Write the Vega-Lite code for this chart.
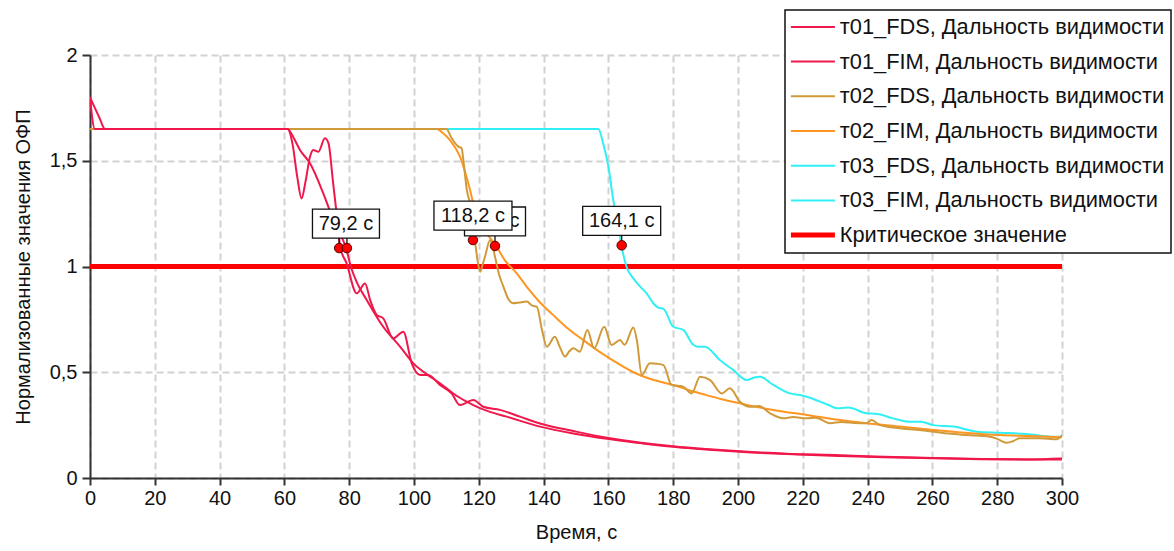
{
  "$schema": "https://vega.github.io/schema/vega-lite/v6.json",
  "width": 972,
  "height": 423,
  "autosize": {"type": "none"},
  "padding": {"left": 90, "top": 55, "right": 112, "bottom": 73},
  "background": "white",
  "config": {
    "font": "Liberation Sans",
    "view": {"stroke": null},
    "legend": {"strokeWidth": 1.5}
  },
  "datasets": {
    "curves": [
      {"series": "Критическое значение", "t": 0, "v": 1},
      {"series": "Критическое значение", "t": 300, "v": 1},
      {"series": "т03_FDS, Дальность видимости", "t": 0, "v": 1.65},
      {"series": "т03_FDS, Дальность видимости", "t": 156.9, "v": 1.65},
      {"series": "т03_FDS, Дальность видимости", "t": 158.4, "v": 1.582},
      {"series": "т03_FDS, Дальность видимости", "t": 160, "v": 1.472},
      {"series": "т03_FDS, Дальность видимости", "t": 161.5, "v": 1.314},
      {"series": "т03_FDS, Дальность видимости", "t": 163.1, "v": 1.188},
      {"series": "т03_FDS, Дальность видимости", "t": 164.1, "v": 1.094},
      {"series": "т03_FDS, Дальность видимости", "t": 165.6, "v": 0.999},
      {"series": "т03_FDS, Дальность видимости", "t": 167.7, "v": 0.944},
      {"series": "т03_FDS, Дальность видимости", "t": 169.8, "v": 0.905},
      {"series": "т03_FDS, Дальность видимости", "t": 171.8, "v": 0.873},
      {"series": "т03_FDS, Дальность видимости", "t": 173.9, "v": 0.825},
      {"series": "т03_FDS, Дальность видимости", "t": 175.5, "v": 0.805},
      {"series": "т03_FDS, Дальность видимости", "t": 177, "v": 0.8},
      {"series": "т03_FDS, Дальность видимости", "t": 180, "v": 0.715},
      {"series": "т03_FDS, Дальность видимости", "t": 183.1, "v": 0.7},
      {"series": "т03_FDS, Дальность видимости", "t": 186.2, "v": 0.63},
      {"series": "т03_FDS, Дальность видимости", "t": 187.5, "v": 0.621},
      {"series": "т03_FDS, Дальность видимости", "t": 189.8, "v": 0.621},
      {"series": "т03_FDS, Дальность видимости", "t": 194.4, "v": 0.558},
      {"series": "т03_FDS, Дальность видимости", "t": 198.5, "v": 0.511},
      {"series": "т03_FDS, Дальность видимости", "t": 202.7, "v": 0.463},
      {"series": "т03_FDS, Дальность видимости", "t": 205, "v": 0.475},
      {"series": "т03_FDS, Дальность видимости", "t": 206.8, "v": 0.479},
      {"series": "т03_FDS, Дальность видимости", "t": 210.9, "v": 0.44},
      {"series": "т03_FDS, Дальность видимости", "t": 216, "v": 0.4},
      {"series": "т03_FDS, Дальность видимости", "t": 219.1, "v": 0.392},
      {"series": "т03_FDS, Дальность видимости", "t": 221.2, "v": 0.384},
      {"series": "т03_FDS, Дальность видимости", "t": 225.3, "v": 0.361},
      {"series": "т03_FDS, Дальность видимости", "t": 228, "v": 0.345},
      {"series": "т03_FDS, Дальность видимости", "t": 230.5, "v": 0.33},
      {"series": "т03_FDS, Дальность видимости", "t": 234, "v": 0.333},
      {"series": "т03_FDS, Дальность видимости", "t": 239.7, "v": 0.306},
      {"series": "т03_FDS, Дальность видимости", "t": 243, "v": 0.303},
      {"series": "т03_FDS, Дальность видимости", "t": 247.9, "v": 0.282},
      {"series": "т03_FDS, Дальность видимости", "t": 253.1, "v": 0.266},
      {"series": "т03_FDS, Дальность видимости", "t": 256.5, "v": 0.266},
      {"series": "т03_FDS, Дальность видимости", "t": 260.3, "v": 0.25},
      {"series": "т03_FDS, Дальность видимости", "t": 266.5, "v": 0.243},
      {"series": "т03_FDS, Дальность видимости", "t": 273.7, "v": 0.219},
      {"series": "т03_FDS, Дальность видимости", "t": 280.9, "v": 0.214},
      {"series": "т03_FDS, Дальность видимости", "t": 289.1, "v": 0.208},
      {"series": "т03_FDS, Дальность видимости", "t": 297.3, "v": 0.195},
      {"series": "т03_FDS, Дальность видимости", "t": 300, "v": 0.195},
      {"series": "т02_FIM, Дальность видимости", "t": 0, "v": 1.65},
      {"series": "т02_FIM, Дальность видимости", "t": 107, "v": 1.65},
      {"series": "т02_FIM, Дальность видимости", "t": 109, "v": 1.63},
      {"series": "т02_FIM, Дальность видимости", "t": 111.1, "v": 1.598},
      {"series": "т02_FIM, Дальность видимости", "t": 114.2, "v": 1.519},
      {"series": "т02_FIM, Дальность видимости", "t": 117.3, "v": 1.362},
      {"series": "т02_FIM, Дальность видимости", "t": 119.3, "v": 1.235},
      {"series": "т02_FIM, Дальность видимости", "t": 122.4, "v": 1.157},
      {"series": "т02_FIM, Дальность видимости", "t": 125.5, "v": 1.094},
      {"series": "т02_FIM, Дальность видимости", "t": 128, "v": 1.03},
      {"series": "т02_FIM, Дальность видимости", "t": 131.7, "v": 0.968},
      {"series": "т02_FIM, Дальность видимости", "t": 135, "v": 0.9},
      {"series": "т02_FIM, Дальность видимости", "t": 138.9, "v": 0.83},
      {"series": "т02_FIM, Дальность видимости", "t": 143, "v": 0.77},
      {"series": "т02_FIM, Дальность видимости", "t": 147.1, "v": 0.712},
      {"series": "т02_FIM, Дальность видимости", "t": 152, "v": 0.655},
      {"series": "т02_FIM, Дальность видимости", "t": 157.4, "v": 0.595},
      {"series": "т02_FIM, Дальность видимости", "t": 162, "v": 0.55},
      {"series": "т02_FIM, Дальность видимости", "t": 167.7, "v": 0.5},
      {"series": "т02_FIM, Дальность видимости", "t": 173, "v": 0.468},
      {"series": "т02_FIM, Дальность видимости", "t": 180, "v": 0.44},
      {"series": "т02_FIM, Дальность видимости", "t": 186, "v": 0.41},
      {"series": "т02_FIM, Дальность видимости", "t": 190.3, "v": 0.392},
      {"series": "т02_FIM, Дальность видимости", "t": 195, "v": 0.372},
      {"series": "т02_FIM, Дальность видимости", "t": 200.6, "v": 0.353},
      {"series": "т02_FIM, Дальность видимости", "t": 205, "v": 0.338},
      {"series": "т02_FIM, Дальность видимости", "t": 210.9, "v": 0.322},
      {"series": "т02_FIM, Дальность видимости", "t": 221.2, "v": 0.298},
      {"series": "т02_FIM, Дальность видимости", "t": 231.5, "v": 0.274},
      {"series": "т02_FIM, Дальность видимости", "t": 239.7, "v": 0.259},
      {"series": "т02_FIM, Дальность видимости", "t": 250, "v": 0.243},
      {"series": "т02_FIM, Дальность видимости", "t": 260.3, "v": 0.227},
      {"series": "т02_FIM, Дальность видимости", "t": 270, "v": 0.214},
      {"series": "т02_FIM, Дальность видимости", "t": 280.9, "v": 0.203},
      {"series": "т02_FIM, Дальность видимости", "t": 290, "v": 0.198},
      {"series": "т02_FIM, Дальность видимости", "t": 300, "v": 0.193},
      {"series": "т02_FDS, Дальность видимости", "t": 0, "v": 1.65},
      {"series": "т02_FDS, Дальность видимости", "t": 110, "v": 1.65},
      {"series": "т02_FDS, Дальность видимости", "t": 111.5, "v": 1.61},
      {"series": "т02_FDS, Дальность видимости", "t": 112.7, "v": 1.582},
      {"series": "т02_FDS, Дальность видимости", "t": 113.7, "v": 1.567},
      {"series": "т02_FDS, Дальность видимости", "t": 114.7, "v": 1.559},
      {"series": "т02_FDS, Дальность видимости", "t": 115.4, "v": 1.48},
      {"series": "т02_FDS, Дальность видимости", "t": 116.3, "v": 1.362},
      {"series": "т02_FDS, Дальность видимости", "t": 117.8, "v": 1.267},
      {"series": "т02_FDS, Дальность видимости", "t": 118.8, "v": 1.125},
      {"series": "т02_FDS, Дальность видимости", "t": 119.6, "v": 1.03},
      {"series": "т02_FDS, Дальность видимости", "t": 120.4, "v": 0.975},
      {"series": "т02_FDS, Дальность видимости", "t": 121.2, "v": 1.01},
      {"series": "т02_FDS, Дальность видимости", "t": 121.9, "v": 1.046},
      {"series": "т02_FDS, Дальность видимости", "t": 123.5, "v": 1.125},
      {"series": "т02_FDS, Дальность видимости", "t": 124.2, "v": 1.1},
      {"series": "т02_FDS, Дальность видимости", "t": 125, "v": 1.046},
      {"series": "т02_FDS, Дальность видимости", "t": 126.3, "v": 0.96},
      {"series": "т02_FDS, Дальность видимости", "t": 127.6, "v": 0.905},
      {"series": "т02_FDS, Дальность видимости", "t": 129, "v": 0.85},
      {"series": "т02_FDS, Дальность видимости", "t": 130.7, "v": 0.826},
      {"series": "т02_FDS, Дальность видимости", "t": 132.5, "v": 0.83},
      {"series": "т02_FDS, Дальность видимости", "t": 134.8, "v": 0.834},
      {"series": "т02_FDS, Дальность видимости", "t": 136.5, "v": 0.815},
      {"series": "т02_FDS, Дальность видимости", "t": 137.9, "v": 0.81},
      {"series": "т02_FDS, Дальность видимости", "t": 139.5, "v": 0.7},
      {"series": "т02_FDS, Дальность видимости", "t": 141, "v": 0.621},
      {"series": "т02_FDS, Дальность видимости", "t": 143.5, "v": 0.668},
      {"series": "т02_FDS, Дальность видимости", "t": 145, "v": 0.62},
      {"series": "т02_FDS, Дальность видимости", "t": 146.6, "v": 0.574},
      {"series": "т02_FDS, Дальность видимости", "t": 148, "v": 0.6},
      {"series": "т02_FDS, Дальность видимости", "t": 149.2, "v": 0.613},
      {"series": "т02_FDS, Дальность видимости", "t": 151.2, "v": 0.597},
      {"series": "т02_FDS, Дальность видимости", "t": 153.5, "v": 0.7},
      {"series": "т02_FDS, Дальность видимости", "t": 155.6, "v": 0.613},
      {"series": "т02_FDS, Дальность видимости", "t": 158.7, "v": 0.715},
      {"series": "т02_FDS, Дальность видимости", "t": 161, "v": 0.629},
      {"series": "т02_FDS, Дальность видимости", "t": 163.6, "v": 0.652},
      {"series": "т02_FDS, Дальность видимости", "t": 165, "v": 0.63},
      {"series": "т02_FDS, Дальность видимости", "t": 167.7, "v": 0.712},
      {"series": "т02_FDS, Дальность видимости", "t": 168.8, "v": 0.65},
      {"series": "т02_FDS, Дальность видимости", "t": 170.3, "v": 0.487},
      {"series": "т02_FDS, Дальность видимости", "t": 172.8, "v": 0.542},
      {"series": "т02_FDS, Дальность видимости", "t": 175, "v": 0.54},
      {"series": "т02_FDS, Дальность видимости", "t": 177, "v": 0.534},
      {"series": "т02_FDS, Дальность видимости", "t": 179.5, "v": 0.44},
      {"series": "т02_FDS, Дальность видимости", "t": 183.1, "v": 0.432},
      {"series": "т02_FDS, Дальность видимости", "t": 185.7, "v": 0.4},
      {"series": "т02_FDS, Дальность видимости", "t": 188.3, "v": 0.479},
      {"series": "т02_FDS, Дальность видимости", "t": 191.4, "v": 0.463},
      {"series": "т02_FDS, Дальность видимости", "t": 195, "v": 0.4},
      {"series": "т02_FDS, Дальность видимости", "t": 197.5, "v": 0.424},
      {"series": "т02_FDS, Дальность видимости", "t": 200.6, "v": 0.361},
      {"series": "т02_FDS, Дальность видимости", "t": 203.7, "v": 0.337},
      {"series": "т02_FDS, Дальность видимости", "t": 206.5, "v": 0.34},
      {"series": "т02_FDS, Дальность видимости", "t": 209.9, "v": 0.306},
      {"series": "т02_FDS, Дальность видимости", "t": 214, "v": 0.282},
      {"series": "т02_FDS, Дальность видимости", "t": 217, "v": 0.288},
      {"series": "т02_FDS, Дальность видимости", "t": 221.2, "v": 0.282},
      {"series": "т02_FDS, Дальность видимости", "t": 224, "v": 0.285},
      {"series": "т02_FDS, Дальность видимости", "t": 228.4, "v": 0.259},
      {"series": "т02_FDS, Дальность видимости", "t": 232, "v": 0.265},
      {"series": "т02_FDS, Дальность видимости", "t": 236, "v": 0.26},
      {"series": "т02_FDS, Дальность видимости", "t": 239.7, "v": 0.259},
      {"series": "т02_FDS, Дальность видимости", "t": 241.2, "v": 0.274},
      {"series": "т02_FDS, Дальность видимости", "t": 243.8, "v": 0.25},
      {"series": "т02_FDS, Дальность видимости", "t": 250, "v": 0.235},
      {"series": "т02_FDS, Дальность видимости", "t": 255, "v": 0.228},
      {"series": "т02_FDS, Дальность видимости", "t": 260.3, "v": 0.219},
      {"series": "т02_FDS, Дальность видимости", "t": 265, "v": 0.21},
      {"series": "т02_FDS, Дальность видимости", "t": 270.6, "v": 0.203},
      {"series": "т02_FDS, Дальность видимости", "t": 277.8, "v": 0.195},
      {"series": "т02_FDS, Дальность видимости", "t": 280, "v": 0.185},
      {"series": "т02_FDS, Дальность видимости", "t": 282.9, "v": 0.167},
      {"series": "т02_FDS, Дальность видимости", "t": 285, "v": 0.175},
      {"series": "т02_FDS, Дальность видимости", "t": 287, "v": 0.188},
      {"series": "т02_FDS, Дальность видимости", "t": 293.2, "v": 0.188},
      {"series": "т02_FDS, Дальность видимости", "t": 298.4, "v": 0.183},
      {"series": "т02_FDS, Дальность видимости", "t": 300, "v": 0.203},
      {"series": "т01_FIM, Дальность видимости", "t": 0, "v": 1.8},
      {"series": "т01_FIM, Дальность видимости", "t": 1.5, "v": 1.75},
      {"series": "т01_FIM, Дальность видимости", "t": 3, "v": 1.7},
      {"series": "т01_FIM, Дальность видимости", "t": 4.6, "v": 1.65},
      {"series": "т01_FIM, Дальность видимости", "t": 61, "v": 1.65},
      {"series": "т01_FIM, Дальность видимости", "t": 62.8, "v": 1.61},
      {"series": "т01_FIM, Дальность видимости", "t": 64.8, "v": 1.551},
      {"series": "т01_FIM, Дальность видимости", "t": 67.9, "v": 1.488},
      {"series": "т01_FIM, Дальность видимости", "t": 72, "v": 1.346},
      {"series": "т01_FIM, Дальность видимости", "t": 75.1, "v": 1.22},
      {"series": "т01_FIM, Дальность видимости", "t": 79.2, "v": 1.078},
      {"series": "т01_FIM, Дальность видимости", "t": 80.5, "v": 1.0},
      {"series": "т01_FIM, Дальность видимости", "t": 82.5, "v": 0.92},
      {"series": "т01_FIM, Дальность видимости", "t": 85.4, "v": 0.842},
      {"series": "т01_FIM, Дальность видимости", "t": 90.5, "v": 0.715},
      {"series": "т01_FIM, Дальность видимости", "t": 95.7, "v": 0.621},
      {"series": "т01_FIM, Дальность видимости", "t": 99.8, "v": 0.542},
      {"series": "т01_FIM, Дальность видимости", "t": 104, "v": 0.49},
      {"series": "т01_FIM, Дальность видимости", "t": 108, "v": 0.448},
      {"series": "т01_FIM, Дальность видимости", "t": 113, "v": 0.39},
      {"series": "т01_FIM, Дальность видимости", "t": 118.3, "v": 0.345},
      {"series": "т01_FIM, Дальность видимости", "t": 123, "v": 0.315},
      {"series": "т01_FIM, Дальность видимости", "t": 128.6, "v": 0.29},
      {"series": "т01_FIM, Дальность видимости", "t": 138.9, "v": 0.243},
      {"series": "т01_FIM, Дальность видимости", "t": 149.2, "v": 0.21},
      {"series": "т01_FIM, Дальность видимости", "t": 159.5, "v": 0.185},
      {"series": "т01_FIM, Дальность видимости", "t": 170, "v": 0.165},
      {"series": "т01_FIM, Дальность видимости", "t": 180, "v": 0.148},
      {"series": "т01_FIM, Дальность видимости", "t": 190, "v": 0.135},
      {"series": "т01_FIM, Дальность видимости", "t": 200.6, "v": 0.124},
      {"series": "т01_FIM, Дальность видимости", "t": 215, "v": 0.113},
      {"series": "т01_FIM, Дальность видимости", "t": 231.5, "v": 0.104},
      {"series": "т01_FIM, Дальность видимости", "t": 245, "v": 0.098},
      {"series": "т01_FIM, Дальность видимости", "t": 260, "v": 0.093},
      {"series": "т01_FIM, Дальность видимости", "t": 275, "v": 0.089},
      {"series": "т01_FIM, Дальность видимости", "t": 290, "v": 0.087},
      {"series": "т01_FIM, Дальность видимости", "t": 300, "v": 0.088},
      {"series": "т01_FDS, Дальность видимости", "t": 0, "v": 1.8},
      {"series": "т01_FDS, Дальность видимости", "t": 1.5, "v": 1.65},
      {"series": "т01_FDS, Дальность видимости", "t": 61, "v": 1.65},
      {"series": "т01_FDS, Дальность видимости", "t": 62.5, "v": 1.58},
      {"series": "т01_FDS, Дальность видимости", "t": 64, "v": 1.42},
      {"series": "т01_FDS, Дальность видимости", "t": 65.3, "v": 1.322},
      {"series": "т01_FDS, Дальность видимости", "t": 66.5, "v": 1.4},
      {"series": "т01_FDS, Дальность видимости", "t": 67.9, "v": 1.519},
      {"series": "т01_FDS, Дальность видимости", "t": 68.9, "v": 1.551},
      {"series": "т01_FDS, Дальность видимости", "t": 70.5, "v": 1.543},
      {"series": "т01_FDS, Дальность видимости", "t": 72.5, "v": 1.606},
      {"series": "т01_FDS, Дальность видимости", "t": 73.6, "v": 1.583},
      {"series": "т01_FDS, Дальность видимости", "t": 75, "v": 1.4},
      {"series": "т01_FDS, Дальность видимости", "t": 76.1, "v": 1.252},
      {"series": "т01_FDS, Дальность видимости", "t": 77.2, "v": 1.094},
      {"series": "т01_FDS, Дальность видимости", "t": 79.2, "v": 1.015},
      {"series": "т01_FDS, Дальность видимости", "t": 82.3, "v": 0.873},
      {"series": "т01_FDS, Дальность видимости", "t": 84.9, "v": 0.92},
      {"series": "т01_FDS, Дальность видимости", "t": 86.5, "v": 0.84},
      {"series": "т01_FDS, Дальность видимости", "t": 88.5, "v": 0.771},
      {"series": "т01_FDS, Дальность видимости", "t": 90.5, "v": 0.755},
      {"series": "т01_FDS, Дальность видимости", "t": 93.6, "v": 0.66},
      {"series": "т01_FDS, Дальность видимости", "t": 96.7, "v": 0.692},
      {"series": "т01_FDS, Дальность видимости", "t": 99.3, "v": 0.542},
      {"series": "т01_FDS, Дальность видимости", "t": 101.9, "v": 0.487},
      {"series": "т01_FDS, Дальность видимости", "t": 104.4, "v": 0.487},
      {"series": "т01_FDS, Дальность видимости", "t": 108, "v": 0.44},
      {"series": "т01_FDS, Дальность видимости", "t": 111.6, "v": 0.4},
      {"series": "т01_FDS, Дальность видимости", "t": 114.2, "v": 0.345},
      {"series": "т01_FDS, Дальность видимости", "t": 118.3, "v": 0.369},
      {"series": "т01_FDS, Дальность видимости", "t": 121.4, "v": 0.337},
      {"series": "т01_FDS, Дальность видимости", "t": 126.5, "v": 0.322},
      {"series": "т01_FDS, Дальность видимости", "t": 132.7, "v": 0.29},
      {"series": "т01_FDS, Дальность видимости", "t": 138.9, "v": 0.258},
      {"series": "т01_FDS, Дальность видимости", "t": 149.2, "v": 0.222},
      {"series": "т01_FDS, Дальность видимости", "t": 159.5, "v": 0.19},
      {"series": "т01_FDS, Дальность видимости", "t": 170, "v": 0.167},
      {"series": "т01_FDS, Дальность видимости", "t": 180, "v": 0.15},
      {"series": "т01_FDS, Дальность видимости", "t": 190, "v": 0.137},
      {"series": "т01_FDS, Дальность видимости", "t": 200.6, "v": 0.126},
      {"series": "т01_FDS, Дальность видимости", "t": 215, "v": 0.115},
      {"series": "т01_FDS, Дальность видимости", "t": 231.5, "v": 0.108},
      {"series": "т01_FDS, Дальность видимости", "t": 245, "v": 0.1},
      {"series": "т01_FDS, Дальность видимости", "t": 260, "v": 0.095},
      {"series": "т01_FDS, Дальность видимости", "t": 275, "v": 0.09},
      {"series": "т01_FDS, Дальность видимости", "t": 290, "v": 0.088},
      {"series": "т01_FDS, Дальность видимости", "t": 300, "v": 0.092}
    ],
    "dots": [
      {"t": 76.9, "v": 1.087},
      {"t": 79.3, "v": 1.087},
      {"t": 118.2, "v": 1.125},
      {"t": 125.0, "v": 1.097},
      {"t": 164.1, "v": 1.1}
    ],
    "labels": [
      {"t": 125.0, "v": 1.097, "label": "125 с"},
      {"t": 79.0, "v": 1.087, "label": "79,2 с"},
      {"t": 118.2, "v": 1.125, "label": "118,2 с"},
      {"t": 164.1, "v": 1.1, "label": "164,1 с"}
    ]
  },
  "encoding": {
    "x": {
      "field": "t", "type": "quantitative",
      "scale": {"domain": [0, 300], "nice": false, "zero": false},
      "axis": {
        "title": "Время, с",
        "values": [0, 20, 40, 60, 80, 100, 120, 140, 160, 180, 200, 220, 240, 260, 280, 300],
        "grid": true, "gridDash": [7, 4], "gridColor": "#d2d2d2", "gridWidth": 2,
        "domainColor": "#333333", "domainWidth": 2,
        "tickColor": "#333333", "tickWidth": 2, "tickSize": 7,
        "labelFontSize": 20, "labelColor": "#111111", "labelPadding": 3, "labelFlush": false,
        "titleFontSize": 20, "titleFontWeight": "normal", "titleColor": "#111111", "titlePadding": 14
      }
    },
    "y": {
      "field": "v", "type": "quantitative",
      "scale": {"domain": [0, 2], "nice": false},
      "axis": {
        "title": "Нормализованные значения ОФП",
        "values": [0, 0.5, 1, 1.5, 2],
        "format": "~g",
        "labelExpr": "replace(datum.label, '.', ',')",
        "grid": true, "gridDash": [7, 4], "gridColor": "#d2d2d2", "gridWidth": 2,
        "domainColor": "#333333", "domainWidth": 2,
        "tickColor": "#333333", "tickWidth": 2, "tickSize": 8,
        "labelFontSize": 20, "labelColor": "#111111", "labelPadding": 5,
        "titleFontSize": 20, "titleFontWeight": "normal", "titleColor": "#111111", "titlePadding": 16
      }
    }
  },
  "layer": [
    {
      "data": {"name": "curves"},
      "transform": [{"filter": "datum.series == 'Критическое значение'"}],
      "mark": {"type": "line", "strokeWidth": 5, "strokeCap": "butt", "clip": true},
      "encoding": {
        "color": {
          "field": "series", "type": "nominal",
          "scale": {
            "domain": ["т01_FDS, Дальность видимости", "т01_FIM, Дальность видимости", "т02_FDS, Дальность видимости", "т02_FIM, Дальность видимости", "т03_FDS, Дальность видимости", "т03_FIM, Дальность видимости", "Критическое значение"],
            "range": ["#F0174A", "#F0174A", "#D09A3A", "#FF9622", "#30F0F5", "#30F0F5", "#FF0000"]
          },
          "legend": {
            "title": null, "orient": "none", "legendX": 695, "legendY": -45,
            "symbolType": "M-1,0H3", "symbolSize": 484,
            "symbolStrokeWidth": {"expr": "datum.value == 'Критическое значение' ? 5 : 2"},
            "labelFontSize": 21.8, "labelColor": "#111111", "labelLimit": 0, "labelOffset": 27,
            "rowPadding": 11.7, "padding": 6,
            "strokeColor": "#111111", "fillColor": "white"
          }
        }
      }
    },
    {
      "data": {"name": "curves"},
      "transform": [{"filter": "datum.series != 'Критическое значение'"}],
      "mark": {"type": "line", "strokeWidth": 2, "interpolate": "monotone", "strokeJoin": "round", "strokeCap": "butt", "clip": true},
      "encoding": {
        "color": {"field": "series", "type": "nominal"}
      }
    },
    {
      "data": {"name": "dots"},
      "mark": {"type": "rule", "color": "#111111", "strokeWidth": 1.3, "y2Offset": -10},
      "encoding": {"y2": {"field": "v"}}
    },
    {
      "data": {"name": "dots"},
      "mark": {"type": "point", "filled": true, "fill": "#FF0000", "stroke": "#5a0000", "strokeWidth": 1, "size": 90, "opacity": 1}
    },
    {
      "data": {"name": "labels"},
      "transform": [{"filter": "datum.label == '125 с'"}],
      "mark": {"type": "point", "shape": "M-1,-0.475H1V0.475H-1Z", "size": 3721, "filled": true, "fill": "white", "stroke": "#111111", "strokeWidth": 1.3, "opacity": 1, "yOffset": -24.5}
    },
    {
      "data": {"name": "labels"},
      "transform": [{"filter": "datum.label == '125 с'"}],
      "mark": {"type": "text", "fontSize": 20, "color": "#111111", "baseline": "middle", "align": "center", "yOffset": -24.5},
      "encoding": {"text": {"field": "label"}}
    },
    {
      "data": {"name": "labels"},
      "transform": [{"filter": "datum.label == '79,2 с'"}],
      "mark": {"type": "point", "shape": "M-1,-0.433H1V0.433H-1Z", "size": 4489, "filled": true, "fill": "white", "stroke": "#111111", "strokeWidth": 1.3, "opacity": 1, "yOffset": -24.5}
    },
    {
      "data": {"name": "labels"},
      "transform": [{"filter": "datum.label != '79,2 с' && datum.label != '125 с'"}],
      "mark": {"type": "point", "shape": "M-1,-0.372H1V0.372H-1Z", "size": 6084, "filled": true, "fill": "white", "stroke": "#111111", "strokeWidth": 1.3, "opacity": 1, "yOffset": -24.5}
    },
    {
      "data": {"name": "labels"},
      "transform": [{"filter": "datum.label != '125 с'"}],
      "mark": {"type": "text", "fontSize": 20, "color": "#111111", "baseline": "middle", "align": "center", "yOffset": -24.5},
      "encoding": {"text": {"field": "label"}}
    }
  ]
}
